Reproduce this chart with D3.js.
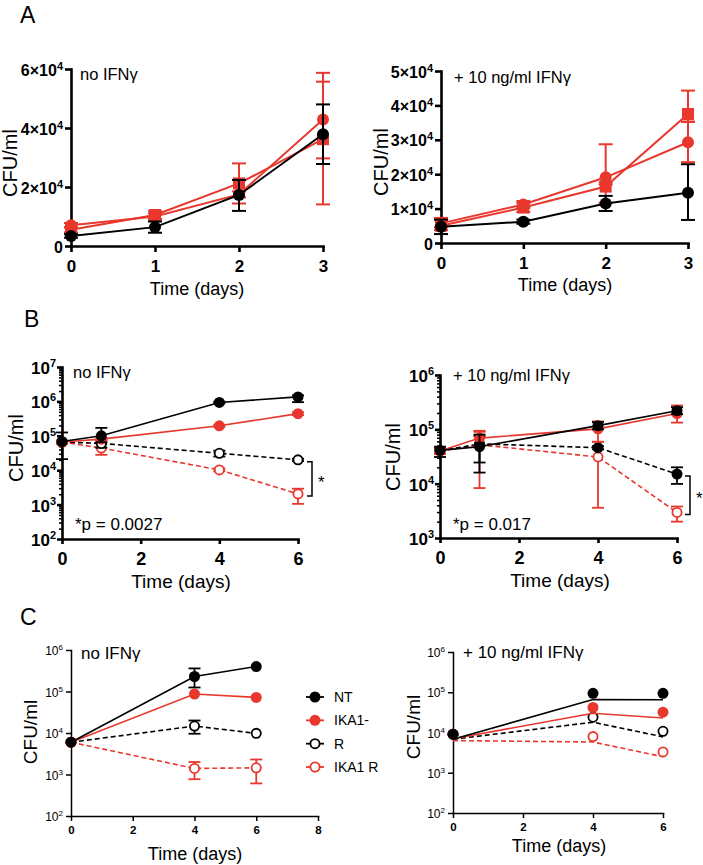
<!DOCTYPE html>
<html><head><meta charset="utf-8">
<script src="https://cdn.jsdelivr.net/npm/d3@7"></script>
<style>body{margin:0;background:#fff}svg{display:block;font-family:"Liberation Sans",Arial,Helvetica,sans-serif}</style>
</head><body><svg id="chart" width="703" height="865"></svg>
<script>
// ---------- DATA ----------
const daysA = [0, 1, 2, 3];
const daysB = [0, 1, 4, 6];
const daysC = [0, 4, 6];
const seriesNames = ["NT", "IKA1-", "R", "IKA1 R"];

// Panel A – no IFNγ
const aNoNT = [3400, 6400, 17300, 37900];
const aNoNTLo = [2800, 4500, 11900, 27800];
const aNoNTHi = [4000, 8300, 22400, 48000];
const aNoIKA1c = [7000, 10000, 17500, 42900];
const aNoIKA1cLo = [6200, 9000, 16500, 29700];
const aNoIKA1cHi = [7800, 11000, 18500, 58700];
const aNoIKA1s = [5500, 10500, 21200, 36200];
const aNoIKA1sLo = [4600, 9200, 14400, 14100];
const aNoIKA1sHi = [6400, 11800, 28000, 55700];
// Panel A – + 10 ng/ml IFNγ
const aIfnNT = [4700, 6200, 11500, 14600];
const aIfnNTLo = [2600, 5600, 9300, 6700];
const aIfnNTHi = [6800, 6800, 13700, 22900];
const aIfnIKA1c = [5700, 11200, 19100, 29300];
const aIfnIKA1cLo = [4600, 10200, 17000, 23500];
const aIfnIKA1cHi = [6800, 12200, 28700, 35200];
const aIfnIKA1s = [5000, 10300, 16400, 37500];
const aIfnIKA1sLo = [3800, 9000, 11700, 35300];
const aIfnIKA1sHi = [7300, 11600, 17600, 44300];

// Panel B – no IFNγ
const bNoNT = [68000, 100000, 930000, 1350000];
const bNoNTLo = [21000, 65000, 880000, 950000];
const bNoNTHi = [125000, 170000, 980000, 1500000];
const bNoIKA1 = [66000, 80000, 195000, 440000];
const bNoIKA1Lo = [60000, 72000, 180000, 400000];
const bNoIKA1Hi = [72000, 88000, 210000, 480000];
const bNoR = [66000, 60000, 31000, 20000];
const bNoRLo = [60000, 45000, 25000, 18500];
const bNoRHi = [72000, 75000, 37000, 21500];
const bNoIKA1R = [66000, 44000, 10200, 2050];
const bNoIKA1RLo = [60000, 28000, 9300, 1050];
const bNoIKA1RHi = [72000, 60000, 11200, 2900];
// Panel B – + 10 ng/ml IFNγ
const bIfnNT = [41000, 48000, 117000, 220000];
const bIfnNTLo = [31000, 24500, 100000, 190000];
const bIfnNTHi = [48000, 80000, 135000, 255000];
const bIfnIKA1 = [40000, 69000, 102000, 195000];
const bIfnIKA1Lo = [35000, 50000, 59000, 133000];
const bIfnIKA1Hi = [46000, 94000, 140000, 275000];
const bIfnR = [40000, 54000, 46000, 15000];
const bIfnRLo = [35000, 16000, 43000, 9900];
const bIfnRHi = [45000, 75000, 49000, 20000];
const bIfnIKA1R = [40000, 52000, 31000, 2950];
const bIfnIKA1RLo = [35000, 8300, 3600, 2000];
const bIfnIKA1RHi = [45000, 90000, 59000, 3800];

// Panel C – no IFNγ
const cNoNT = [6000, 230000, 400000];
const cNoNTLo = [null, 125000, null];
const cNoNTHi = [null, 360000, null];
const cNoIKA1 = [6000, 87000, 72000];
const cNoR = [6000, 14700, 9800];
const cNoRLo = [null, 9600, null];
const cNoRHi = [null, 20000, null];
const cNoIKA1R = [6000, 1400, 1450];
const cNoIKA1RLo = [null, 770, 610];
const cNoIKA1RHi = [null, 2000, 2300];
// Panel C – + 10 ng/ml IFNγ (marker values and connecting-line values differ in the original)
const cIfnNT = [9100, 94000, 94000];
const cIfnNTLine = [6800, 66000, 65000];
const cIfnIKA1 = [9100, 42000, 32000];
const cIfnIKA1Line = [7000, 30000, 23000];
const cIfnR = [9100, 24000, 10700];
const cIfnRLine = [6800, 18000, 7800];
const cIfnIKA1R = [9100, 7900, 3300];
const cIfnIKA1RLine = [6300, 5800, 2500];

const ticksALeft = [0, 20000, 40000, 60000];
const ticksARight = [0, 10000, 20000, 30000, 40000, 50000];
const ticksBLeft = [1e2, 1e3, 1e4, 1e5, 1e6, 1e7];
const ticksBRight = [1e3, 1e4, 1e5, 1e6];
const ticksC = [1e2, 1e3, 1e4, 1e5, 1e6];
const xTicksA = [0, 1, 2, 3];
const xTicksB = [0, 2, 4, 6];
const xTicksCLeft = [0, 2, 4, 6, 8];
const xTicksCRight = [0, 2, 4, 6];

// ---------- DRAWING ----------
const RED = "#e8372d", BLACK = "#000";
const svg = d3.select("#chart");

const fmtA = d => d === 0 ? ["0", null] : [(d / 1e4) + "×10", "4"];
const fmtLog = d => ["10", String(Math.round(Math.log10(d)))];
function minorLog(domain) {
  const out = [];
  for (let e = Math.log10(domain[0]); e < Math.log10(domain[1]); e++)
    for (let k = 2; k <= 9; k++) out.push(k * Math.pow(10, e));
  return out;
}

function drawPanel(p) {
  const x = d3.scaleLinear().domain(p.xDomain).range([p.left, p.right]);
  const y = (p.log ? d3.scaleLog() : d3.scaleLinear()).domain(p.yDomain).range([p.bottom, p.top]);
  const g = svg.append("g");

  // minor ticks
  if (p.minor) {
    g.append("g").attr("transform", `translate(${p.left},0)`)
      .call(d3.axisLeft(y).tickValues(minorLog(p.yDomain)).tickSize(p.minor).tickSizeOuter(0).tickFormat(() => ""))
      .call(a => a.select(".domain").remove())
      .selectAll("line").attr("stroke-width", p.axisW * 0.6);
  }
  // y axis
  const ya = g.append("g").attr("transform", `translate(${p.left},0)`)
    .call(d3.axisLeft(y).tickValues(p.yTicks).tickSize(p.tickLen).tickPadding(p.yPad).tickSizeOuter(0).tickFormat(() => ""));
  ya.attr("font-family", null).attr("font-size", null);
  ya.select(".domain").attr("stroke-width", p.axisW).attr("stroke-linecap", "square");
  ya.selectAll(".tick line").attr("stroke-width", p.axisW);
  ya.selectAll(".tick text").attr("font-size", p.yFs).attr("font-weight", p.yBold ? "bold" : "normal")
    .attr("dy", "0.38em").attr("fill", "#000")
    .each(function (d) {
      const [b, e] = p.yFmt(d);
      const t = d3.select(this);
      t.append("tspan").text(b);
      if (e) t.append("tspan").attr("dy", -p.supDy).attr("font-size", p.supFs).text(e);
    });
  // x axis
  const xa = g.append("g").attr("transform", `translate(0,${p.bottom})`)
    .call(d3.axisBottom(x).tickValues(p.xTicks).tickSize(p.tickLen).tickSizeOuter(0).tickFormat(d3.format("d")));
  xa.attr("font-family", null).attr("font-size", null);
  xa.select(".domain").attr("stroke-width", p.axisW).attr("stroke-linecap", "square");
  xa.selectAll(".tick line").attr("stroke-width", p.axisW);
  xa.selectAll(".tick text").attr("font-size", p.xFs).attr("font-weight", "bold").attr("fill", "#000")
    .attr("y", p.xLabY).attr("dy", null);

  // series
  p.series.forEach(s => {
    const color = s.color;
    const lineVals = s.line || s.v;
    // error bars
    const eb = g.append("g").attr("stroke", color).attr("stroke-width", p.errW);
    p.days.forEach((d, i) => {
      if (!s.lo || s.lo[i] == null) return;
      const cx = x(d), y1 = y(s.lo[i]), y2 = y(s.hi[i]);
      eb.append("line").attr("x1", cx).attr("x2", cx).attr("y1", y1).attr("y2", y2);
      [y1, y2].forEach(yy => eb.append("line").attr("x1", cx - p.cap).attr("x2", cx + p.cap).attr("y1", yy).attr("y2", yy));
    });
    // line
    g.append("path").datum(p.days.map((d, i) => [d, lineVals[i]]))
      .attr("d", d3.line().x(q => x(q[0])).y(q => y(q[1])))
      .attr("fill", "none").attr("stroke", color).attr("stroke-width", p.lineW)
      .attr("stroke-dasharray", s.dash ? p.dash : null);
    // markers
    const mk = g.append("g");
    p.days.forEach((d, i) => {
      if (s.v[i] == null) return;
      const cx = x(d), cy = y(s.v[i]);
      if (s.marker === "square") {
        mk.append("rect").attr("x", cx - p.r).attr("y", cy - p.r).attr("width", 2 * p.r).attr("height", 2 * p.r)
          .attr("fill", color);
      } else if (s.open) {
        mk.append("circle").attr("cx", cx).attr("cy", cy).attr("r", p.r - 0.9)
          .attr("fill", "#fff").attr("stroke", color).attr("stroke-width", 1.8);
      } else {
        mk.append("circle").attr("cx", cx).attr("cy", cy).attr("r", p.r).attr("fill", color);
      }
    });
  });

  // significance bracket
  if (p.bracket) {
    const bx = x(p.bracket.day) + p.bracket.dx;
    const y1 = y(p.bracket.v1) + 2, y2 = y(p.bracket.v2) + 2;
    g.append("path").attr("d", `M${bx - 5},${y1}H${bx}V${y2}H${bx - 5}`)
      .attr("fill", "none").attr("stroke", "#000").attr("stroke-width", 1.5);
    g.append("text").attr("x", bx + 6).attr("y", (y1 + y2) / 2 + 9).attr("font-size", 17).text("*");
  }
  // condition label
  g.append("text").attr("x", p.condX).attr("y", p.condY).attr("font-size", p.condFs).text(p.cond);
  if (p.pval) g.append("text").attr("x", p.pX).attr("y", p.pY).attr("font-size", 17).text(p.pval);
  // axis titles
  g.append("text").attr("transform", `translate(${p.ylabX},${p.ylabY}) rotate(-90)`)
    .attr("text-anchor", "middle").attr("font-size", p.ylabFs).text("CFU/ml");
  g.append("text").attr("x", p.xlabX).attr("y", p.xlabY)
    .attr("text-anchor", "middle").attr("font-size", p.xlabFs).text("Time (days)");
  return { x, y };
}

const styleA = { log: false, axisW: 2.6, tickLen: 6, yPad: 2, yFs: 16, yBold: true, supFs: 11, supDy: 6,
  xFs: 17, xLabY: 26, errW: 2, cap: 7, lineW: 2, r: 6, dash: "5,3", condFs: 16.5, ylabFs: 20, xlabFs: 18 };
const styleB = { log: true, axisW: 2.6, tickLen: 5, minor: 3, yPad: 1, yFs: 17, yBold: true, supFs: 11, supDy: 7,
  xFs: 18, xLabY: 26, errW: 1.8, cap: 6, lineW: 1.6, r: 5.5, dash: "5,3", condFs: 16.5, ylabFs: 20, xlabFs: 19 };
const styleC = { log: true, axisW: 1.5, tickLen: 5, yPad: 3, yFs: 12, yBold: false, supFs: 8, supDy: 5,
  xFs: 11.5, xLabY: 18, errW: 1.8, cap: 6, lineW: 1.6, r: 5.5, dash: "5,3", condFs: 17, ylabFs: 19, xlabFs: 18 };

// Panel A
drawPanel(Object.assign({}, styleA, {
  left: 71, right: 323, top: 69, bottom: 246, xDomain: [0, 3], yDomain: [0, 60000],
  yTicks: ticksALeft, xTicks: xTicksA, yFmt: fmtA, days: daysA,
  series: [
    { color: RED, marker: "square", v: aNoIKA1s, lo: aNoIKA1sLo, hi: aNoIKA1sHi },
    { color: RED, v: aNoIKA1c, lo: aNoIKA1cLo, hi: aNoIKA1cHi },
    { color: BLACK, v: aNoNT, lo: aNoNTLo, hi: aNoNTHi }],
  cond: "no IFNγ", condX: 80, condY: 80,
  ylabX: 17, ylabY: 163, xlabX: 197, xlabY: 295 }));
drawPanel(Object.assign({}, styleA, {
  left: 441, right: 688, top: 71, bottom: 243, xDomain: [0, 3], yDomain: [0, 50000],
  yTicks: ticksARight, xTicks: xTicksA, yFmt: fmtA, days: daysA,
  series: [
    { color: RED, marker: "square", v: aIfnIKA1s, lo: aIfnIKA1sLo, hi: aIfnIKA1sHi },
    { color: RED, v: aIfnIKA1c, lo: aIfnIKA1cLo, hi: aIfnIKA1cHi },
    { color: BLACK, v: aIfnNT, lo: aIfnNTLo, hi: aIfnNTHi }],
  cond: "+ 10 ng/ml IFNγ", condX: 454, condY: 83,
  ylabX: 388, ylabY: 162, xlabX: 565, xlabY: 291 }));

// Panel B
drawPanel(Object.assign({}, styleB, {
  left: 62, right: 298, top: 367, bottom: 539, xDomain: [0, 6], yDomain: [1e2, 1e7],
  yTicks: ticksBLeft, xTicks: xTicksB, yFmt: fmtLog, days: daysB,
  series: [
    { color: RED, open: true, dash: true, v: bNoIKA1R, lo: bNoIKA1RLo, hi: bNoIKA1RHi },
    { color: BLACK, open: true, dash: true, v: bNoR, lo: bNoRLo, hi: bNoRHi },
    { color: RED, v: bNoIKA1, lo: bNoIKA1Lo, hi: bNoIKA1Hi },
    { color: BLACK, v: bNoNT, lo: bNoNTLo, hi: bNoNTHi }],
  bracket: { day: 6, dx: 14, v1: bNoR[3], v2: bNoIKA1R[3] },
  cond: "no IFNγ", condX: 73, condY: 378, pval: "*p = 0.0027", pX: 75, pY: 530,
  ylabX: 23, ylabY: 448, xlabX: 181, xlabY: 588 }));
drawPanel(Object.assign({}, styleB, {
  left: 440, right: 677, top: 375, bottom: 538, xDomain: [0, 6], yDomain: [1e3, 1e6],
  yTicks: ticksBRight, xTicks: xTicksB, yFmt: fmtLog, days: daysB,
  series: [
    { color: RED, open: true, dash: true, v: bIfnIKA1R, lo: bIfnIKA1RLo, hi: bIfnIKA1RHi },
    { color: BLACK, dash: true, v: bIfnR, lo: bIfnRLo, hi: bIfnRHi },
    { color: RED, v: bIfnIKA1, lo: bIfnIKA1Lo, hi: bIfnIKA1Hi },
    { color: BLACK, v: bIfnNT, lo: bIfnNTLo, hi: bIfnNTHi }],
  bracket: { day: 6, dx: 13, v1: bIfnR[3], v2: bIfnIKA1R[3] },
  cond: "+ 10 ng/ml IFNγ", condX: 453, condY: 381, pval: "*p = 0.017", pX: 453, pY: 530,
  ylabX: 400, ylabY: 457, xlabX: 560, xlabY: 587 }));

// Panel C
drawPanel(Object.assign({}, styleC, {
  left: 71, right: 318, top: 650, bottom: 816, xDomain: [0, 8], yDomain: [1e2, 1e6],
  yTicks: ticksC, xTicks: xTicksCLeft, yFmt: fmtLog, days: daysC,
  series: [
    { color: RED, open: true, dash: true, v: cNoIKA1R, lo: cNoIKA1RLo, hi: cNoIKA1RHi },
    { color: BLACK, open: true, dash: true, v: cNoR, lo: cNoRLo, hi: cNoRHi },
    { color: RED, v: cNoIKA1 },
    { color: BLACK, v: cNoNT, lo: cNoNTLo, hi: cNoNTHi }],
  cond: "no IFNγ", condX: 81, condY: 659,
  ylabX: 37, ylabY: 732, xlabX: 195, xlabY: 860 }));
drawPanel(Object.assign({}, styleC, {
  left: 453, right: 663, top: 652, bottom: 813, xDomain: [0, 6], yDomain: [1e2, 1e6],
  yTicks: ticksC, xTicks: xTicksCRight, yFmt: fmtLog, days: daysC,
  series: [
    { color: RED, open: true, dash: true, v: cIfnIKA1R, line: cIfnIKA1RLine },
    { color: BLACK, open: true, dash: true, v: cIfnR, line: cIfnRLine },
    { color: RED, v: cIfnIKA1, line: cIfnIKA1Line },
    { color: BLACK, v: cIfnNT, line: cIfnNTLine }],
  cond: "+ 10 ng/ml IFNγ", condX: 463, condY: 658,
  ylabX: 420, ylabY: 727, xlabX: 559, xlabY: 852 }));

// Legend (panel C)
const legendStyles = [
  { color: BLACK, open: false, dash: false },
  { color: RED, open: false, dash: false },
  { color: BLACK, open: true, dash: false },
  { color: RED, open: true, dash: false }];
const legY = d3.scalePoint().domain(seriesNames).range([697, 767]);
const leg = svg.append("g");
seriesNames.forEach((n, i) => {
  const st = legendStyles[i], cy = legY(n);
  leg.append("line").attr("x1", 306).attr("x2", 324).attr("y1", cy).attr("y2", cy)
    .attr("stroke", st.color).attr("stroke-width", 1.8);
  if (st.open) leg.append("circle").attr("cx", 315).attr("cy", cy).attr("r", 4.6).attr("fill", "#fff")
    .attr("stroke", st.color).attr("stroke-width", 1.8);
  else leg.append("circle").attr("cx", 315).attr("cy", cy).attr("r", 5.5).attr("fill", st.color);
  leg.append("text").attr("x", 334).attr("y", cy + 5).attr("font-size", 14).text(n);
});

// Panel letters
[["A", 20, 23], ["B", 24, 327], ["C", 20, 625]].forEach(([t, lx, ly]) =>
  svg.append("text").attr("x", lx).attr("y", ly).attr("font-size", 23).text(t));
</script></body></html>
